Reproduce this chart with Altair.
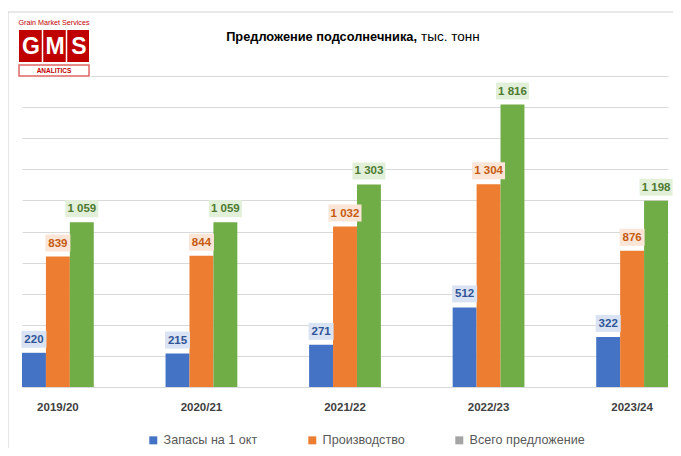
import altair as alt
import pandas as pd

seasons = ["2019/20", "2020/21", "2021/22", "2022/23", "2023/24"]
stocks = [220, 215, 271, 512, 322]
production = [839, 844, 1032, 1304, 876]
total = [1059, 1059, 1303, 1816, 1198]
series = ["Запасы на 1 окт", "Производство", "Всего предложение"]
bar_colors = ["#4472C4", "#ED7D31", "#70AD47"]
legend_colors = ["#4472C4", "#ED7D31", "#A5A5A5"]
label_text_colors = ["#2F5597", "#C55A11", "#4E7A31"]
label_bg_colors = ["#DAE3F3", "#FBE5D6", "#E2F0D9"]
gms_letters = ["G", "M", "S"]

rows = []
for i, s in enumerate(seasons):
    for name, vals in zip(series, [stocks, production, total]):
        v = vals[i]
        rows.append({"season": s, "series": name, "value": v,
                     "label": f"{v:,}".replace(",", " ")})
df = pd.DataFrame(rows)

NARROW = "Liberation Sans Narrow, Arial Narrow, Liberation Sans, Arial, sans-serif"
SANS = "Liberation Sans, Arial, sans-serif"
RED = "#C00000"

x = alt.X("season:N", sort=seasons,
          scale=alt.Scale(paddingInner=0.5, paddingOuter=0),
          axis=alt.Axis(title=None, labelAngle=0, labelFont=NARROW,
                        labelFontWeight="bold", labelFontSize=11.5,
                        labelColor="#404040", labelPadding=14,
                        ticks=False, domain=False))
xo = alt.XOffset("series:N", sort=series,
                 scale=alt.Scale(paddingInner=0, paddingOuter=0))
y = alt.Y("value:Q", scale=alt.Scale(domain=[0, 2000], nice=False),
          axis=alt.Axis(title=None, labels=False, ticks=False, domain=False,
                        grid=True, values=list(range(0, 2001, 200)),
                        gridColor="#D9D9D9", gridWidth=1.2))

base = alt.Chart(df)

bars = base.mark_bar().encode(
    x=x, xOffset=xo, y=y,
    color=alt.Color("series:N", sort=series,
                    scale=alt.Scale(domain=series, range=bar_colors), legend=None))

boxes = base.mark_rect(height=17, yOffset=-13.5,
                       width=alt.ExprRef("length(datum.label)*4+13")).encode(
    x=x, xOffset=xo, y=y,
    color=alt.Color("series:N", sort=series,
                    scale=alt.Scale(domain=series, range=label_bg_colors), legend=None))

labels = base.mark_text(dy=-13, baseline="middle", font=NARROW,
                        fontWeight="bold", fontSize=11.5).encode(
    x=x, xOffset=xo, y=y, text="label:N",
    color=alt.Color("series:N", sort=series,
                    scale=alt.Scale(domain=series, range=label_text_colors), legend=None))

legend_layer = base.mark_square(size=0, opacity=0).encode(
    x=x, xOffset=xo, y=y,
    color=alt.Color("series:N", sort=series,
                    scale=alt.Scale(domain=series, range=legend_colors),
                    legend=alt.Legend(orient="none", legendX=125, legendY=358,
                                      direction="horizontal", title=None,
                                      symbolType="square", symbolSize=64,
                                      symbolOpacity=1, symbolStrokeWidth=0,
                                      labelFontSize=12.6, labelColor="#595959",
                                      labelFont=SANS, columnPadding=48,
                                      labelOffset=4, padding=0)))

one = alt.Data(values=[{}])

# plot origin is at page (22, 76)
def px(v):
    return v - 22

def py(v):
    return v - 76

frame_top = alt.Chart(one).mark_rule(color="#D0D0D0", strokeWidth=1).encode(
    x=alt.value(px(8)), x2=alt.value(px(681)), y=alt.value(py(12)))
frame_left = alt.Chart(one).mark_rule(color="#D0D0D0", strokeWidth=1).encode(
    x=alt.value(px(8)), y=alt.value(py(12)), y2=alt.value(py(456)))

cover = alt.Chart(one).mark_rect(color="white").encode(
    x=alt.value(px(14)), x2=alt.value(px(91)), y=alt.value(py(15)), y2=alt.value(py(79)))
gms_box = alt.Chart(one).mark_rect(color=RED).encode(
    x=alt.value(px(19)), x2=alt.value(px(89)), y=alt.value(py(30)), y2=alt.value(py(62)))
sep1 = alt.Chart(one).mark_rule(color="white", strokeWidth=1.5).encode(
    x=alt.value(px(42.5)), y=alt.value(py(30)), y2=alt.value(py(62)))
sep2 = alt.Chart(one).mark_rule(color="white", strokeWidth=1.5).encode(
    x=alt.value(px(66.5)), y=alt.value(py(30)), y2=alt.value(py(62)))
letter_layers = []
for i, ch in enumerate(gms_letters):
    letter_layers.append(
        alt.Chart(one).mark_text(text=ch, color="white", font=SANS, fontWeight="bold",
                                 fontSize=23, baseline="middle", align="center").encode(
            x=alt.value(px(31 + 24 * i)), y=alt.value(py(47))))
top_text = alt.Chart(one).mark_text(text="Grain Market Services", color=RED, font=NARROW,
                                    fontSize=7.2, baseline="middle", align="center").encode(
    x=alt.value(px(54)), y=alt.value(py(23)))
an_box = alt.Chart(one).mark_rect(fill="white", stroke="#E06666", strokeWidth=1.5).encode(
    x=alt.value(px(19)), x2=alt.value(px(89)), y=alt.value(py(65)), y2=alt.value(py(76)))
an_text = alt.Chart(one).mark_text(text="ANALITICS", color=RED, font=NARROW, fontWeight="bold",
                                   fontSize=6.5, baseline="middle", align="center").encode(
    x=alt.value(px(54)), y=alt.value(py(70.5)))

title_bold = alt.Chart(one).mark_text(text="Предложение подсолнечника,", color="#000000",
                                      font=NARROW, fontWeight="bold", fontSize=12.8,
                                      baseline="middle", align="right").encode(
    x=alt.value(px(417)), y=alt.value(py(37)))
title_reg = alt.Chart(one).mark_text(text="тыс. тонн", color="#000000",
                                     font=NARROW, fontSize=13.5,
                                     baseline="middle", align="left").encode(
    x=alt.value(px(421)), y=alt.value(py(37)))

chart = alt.layer(
    bars, boxes, labels, legend_layer,
    frame_top, frame_left, cover, gms_box, sep1, sep2, *letter_layers,
    top_text, an_box, an_text, title_bold, title_reg
).resolve_scale(color="independent").properties(
    width=646, height=311,
    autosize=alt.AutoSizeParams(type="none"),
    padding={"left": 14, "top": 68, "right": 5, "bottom": 61},
    background="white"
).configure_view(stroke=None)

chart.save("out.html", embed_options={"renderer": "svg", "actions": False})
